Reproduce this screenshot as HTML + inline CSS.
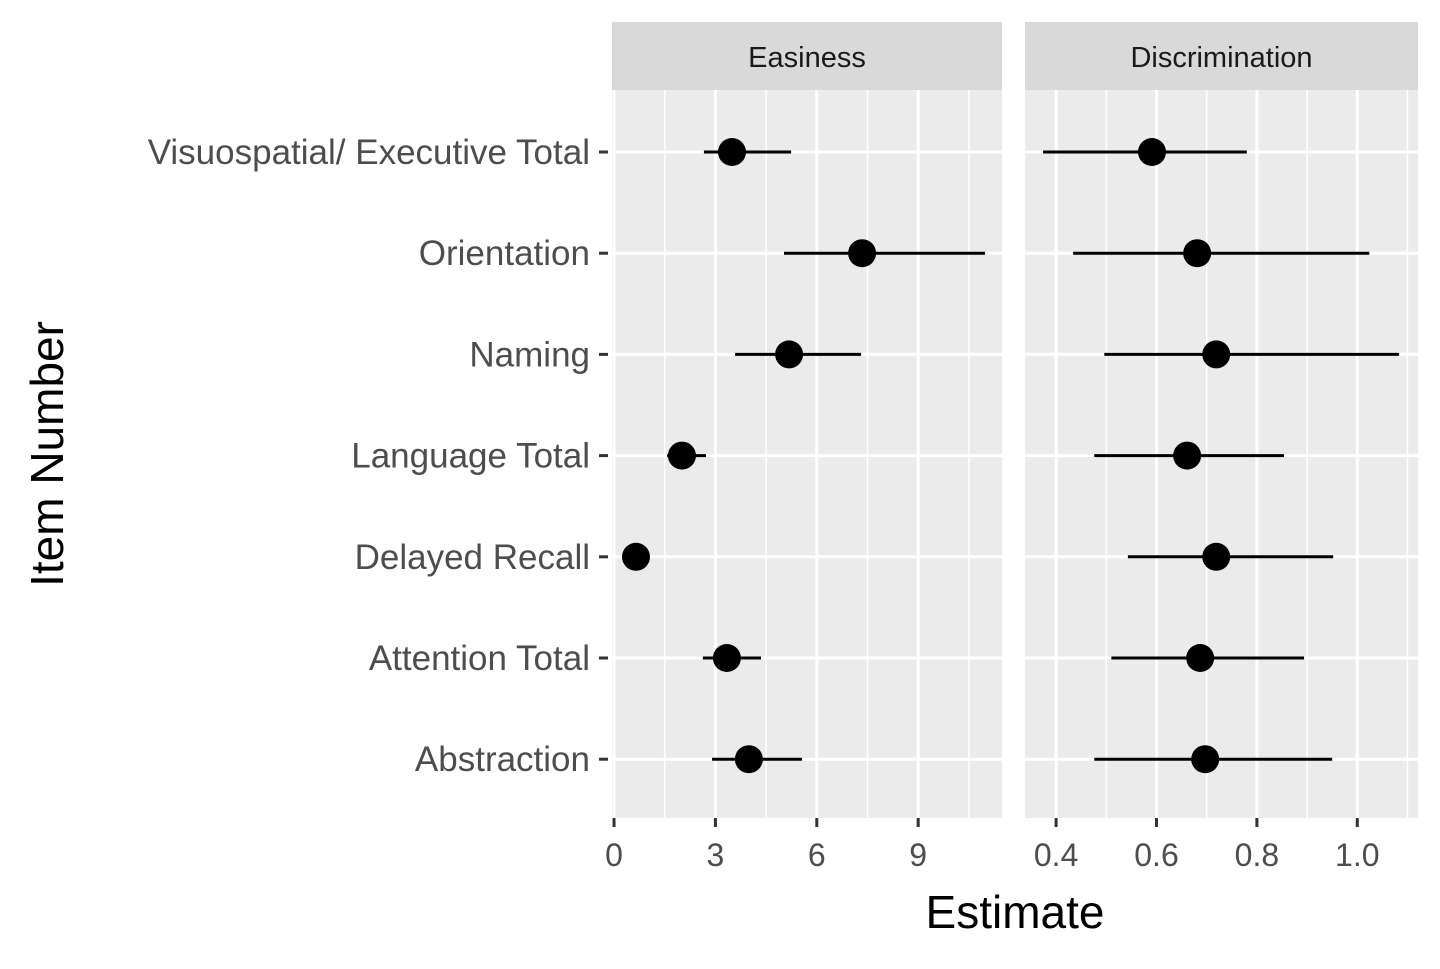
<!DOCTYPE html>
<html><head><meta charset="utf-8"><style>
body{margin:0;background:#fff}
text{font-family:"Liberation Sans",Arial,sans-serif}
</style></head><body>
<svg id="c" width="1440" height="964" xmlns="http://www.w3.org/2000/svg"></svg>
<script>
const categories=["Visuospatial/ Executive Total","Orientation","Naming","Language Total","Delayed Recall","Attention Total","Abstraction"];
const easeEst=[3.49,7.34,5.18,2.01,0.65,3.34,3.99];
const easeLo=[2.66,5.03,3.58,1.57,0.45,2.63,2.90];
const easeHi=[5.24,10.98,7.31,2.72,0.85,4.35,5.56];
const discEst=[0.591,0.681,0.719,0.661,0.719,0.687,0.697];
const discLo=[0.374,0.434,0.496,0.476,0.543,0.510,0.476];
const discHi=[0.780,1.024,1.083,0.854,0.952,0.894,0.950];
const easeTicks=[0,3,6,9];
const easeMinor=[1.5,4.5,7.5,10.5];
const discTicks=[0.4,0.6,0.8,1.0];
const discMinor=[0.5,0.7,0.9,1.1];
const NS="http://www.w3.org/2000/svg",svg=document.getElementById('c');
function mk(t,a,p){const e=document.createElementNS(NS,t);for(const k in a)e.setAttribute(k,a[k]);(p||svg).appendChild(e);return e;}
const panelTop=90,panelBot=818;
const yRow=i=>152+i*101.2;
const panels=[
 {name:"Easiness",x0:612,x1:1002,d0:-0.06,d1:11.48,est:easeEst,lo:easeLo,hi:easeHi,ticks:easeTicks,minor:easeMinor,fmt:v=>String(v)},
 {name:"Discrimination",x0:1025,x1:1418,d0:0.338,d1:1.121,est:discEst,lo:discLo,hi:discHi,ticks:discTicks,minor:discMinor,fmt:v=>v.toFixed(1)}
];
panels.forEach((p,pi)=>{
 const sx=v=>p.x0+(v-p.d0)/(p.d1-p.d0)*(p.x1-p.x0);
 const g=mk('g',{});
 
 
 const strip=mk('rect',{x:p.x0,y:22,width:p.x1-p.x0,height:68,fill:'#d9d9d9'},g);
 
 
 const st=mk('text',{x:(p.x0+p.x1)/2,y:67,'text-anchor':'middle','font-size':29,fill:'#1a1a1a'},g);st.textContent=p.name;
 
 
 mk('rect',{x:p.x0,y:panelTop,width:p.x1-p.x0,height:panelBot-panelTop,fill:'#ebebeb'},g);
 p.minor.forEach(v=>{const x=sx(v);if(x>p.x0&&x<p.x1){const l=mk('line',{x1:x,x2:x,y1:panelTop,y2:panelBot,stroke:'#fff','stroke-width':1.5},g);
  
  }});
 p.ticks.forEach(v=>{const x=sx(v);const l=mk('line',{x1:x,x2:x,y1:panelTop,y2:panelBot,stroke:'#fff','stroke-width':3},g);
  
  
  mk('line',{x1:x,x2:x,y1:panelBot,y2:panelBot+9,stroke:'#333','stroke-width':3},g);
  const t=mk('text',{x:x,y:panelBot+48,'text-anchor':'middle','font-size':32,fill:'#4d4d4d'},g);t.textContent=p.fmt(v);
  
  });
 categories.forEach((c,i)=>{const y=yRow(i);mk('line',{x1:p.x0,x2:p.x1,y1:y,y2:y,stroke:'#fff','stroke-width':3},g);});
 categories.forEach((c,i)=>{const y=yRow(i);
  const e=mk('line',{x1:sx(p.lo[i]),x2:sx(p.hi[i]),y1:y,y2:y,stroke:'#000','stroke-width':3},g);
  
  
  const d=mk('circle',{cx:sx(p.est[i]),cy:y,r:14,fill:'#000'},g);
  
  });
});
categories.forEach((c,i)=>{const y=yRow(i);
 mk('line',{x1:599,x2:608,y1:y,y2:y,stroke:'#333','stroke-width':3});
 const t=mk('text',{x:590,y:y+12,'text-anchor':'end','font-size':35,fill:'#4d4d4d'});t.textContent=c;
 
 });
const xt=mk('text',{x:1015,y:928,'text-anchor':'middle','font-size':46,fill:'#000'});xt.textContent='Estimate';


const yt=mk('text',{x:0,y:0,'text-anchor':'middle','font-size':46,fill:'#000',transform:'translate(63,454) rotate(-90)'});yt.textContent='Item Number';


</script>
</body></html>
